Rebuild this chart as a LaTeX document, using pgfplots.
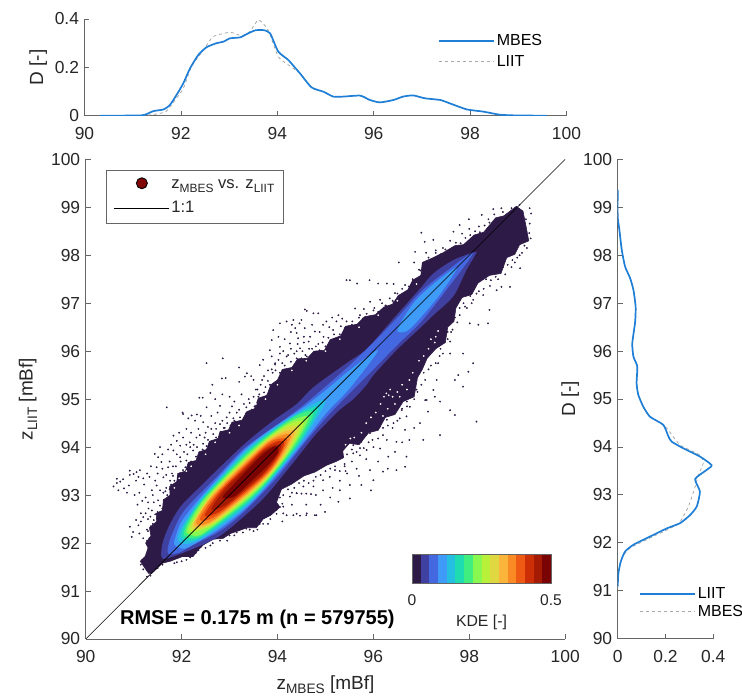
\documentclass[border=0pt]{standalone}
\usepackage{pgfplots}
\usepackage{fontspec}
\setmainfont{Liberation Sans}
\pgfplotsset{compat=1.18}
\definecolor{axc}{HTML}{666666}
\definecolor{txc}{HTML}{262626}
\definecolor{bluel}{HTML}{1F7FD6}
\definecolor{dashc}{HTML}{A8A8A8}
\definecolor{c1}{HTML}{2E1A47}
\definecolor{c2}{HTML}{4040A0}
\definecolor{c3}{HTML}{4468E0}
\definecolor{c4}{HTML}{3E9CF8}
\definecolor{c5}{HTML}{25C0E0}
\definecolor{c6}{HTML}{1FDCB0}
\definecolor{c7}{HTML}{40EE80}
\definecolor{c8}{HTML}{88F850}
\definecolor{c9}{HTML}{B8F03A}
\definecolor{c10}{HTML}{E0D840}
\definecolor{c11}{HTML}{FBB53A}
\definecolor{c12}{HTML}{FA8A24}
\definecolor{c13}{HTML}{EE5A14}
\definecolor{c14}{HTML}{CC2E06}
\definecolor{c15}{HTML}{A51A02}
\definecolor{c16}{HTML}{7A0403}
\pgfplotsset{
  base/.style={scale only axis, axis lines=left, axis line style={-,axc,line width=0.9pt},
    tick align=inside, major tick length=5pt, tick style={axc,line width=0.8pt},
    tick label style={font=\fontsize{17.4}{18}\selectfont,text=txc},
    xticklabel style={yshift=-8pt}, yticklabel style={xshift=-2pt},
    label style={font=\fontsize{19}{20}\selectfont,text=txc},
    /pgf/number format/assume math mode=true,
    /pgf/number format/.cd, fixed, 1000 sep={}, /pgfplots/.cd,
    legend cell align=left}
}
\newcommand{\sub}[1]{\raisebox{-0.45ex}{\fontsize{0.72em}{1em}\selectfont #1}}
\begin{document}
\begin{tikzpicture}
\path[use as bounding box] (0,0) rectangle (742pt,698pt);
% ---------- main
\begin{axis}[base, at={(85.7pt,59pt)}, anchor=south west, width=479.5pt, height=479.7pt,
  xmin=90,xmax=100,ymin=90,ymax=100, xtick={90,92,...,100}, ytick={90,91,...,100},
  xlabel={z\sub{MBES} [mBf]}, ylabel={z\sub{LIIT} [mBf]},
  xlabel style={at={(axis description cs:0.5,0)},anchor=north,yshift=-33pt},
  ylabel style={at={(axis description cs:0,0.5)},anchor=south,yshift=45pt},
  legend style={at={(0.0423,0.978)},anchor=north west,draw=axc,line width=0.9pt,fill=white,
     inner xsep=7pt,inner ysep=7pt,font=\fontsize{16.6}{18}\selectfont,text=txc,row sep=7pt,
     /tikz/every even column/.append style={column sep=6pt}}
]
\addlegendimage{legend image code/.code={\fill[black!0] (0pt,0) rectangle (55pt,1pt);\fill[fill={rgb,255:red,130;green,8;blue,8}] (28pt,2pt) circle (5.5pt);}}
\addlegendentry{z\sub{MBES} vs. z\sub{LIIT}}
\addlegendimage{legend image code/.code={\draw[black,line width=0.6pt] (0pt,0) -- (55pt,0);}}
\addlegendentry{1:1}
% dust
\addplot[forget plot,only marks,mark=*,mark size=0.7pt,c1] table {
90.58 93.18
90.65 93.25
90.68 93.10
90.72 93.28
90.78 93.33
90.80 93.14
90.86 93.05
90.90 93.20
90.92 93.42
91.00 93.44
91.05 93.30
91.10 93.38
91.13 93.52
91.20 93.35
91.22 93.22
91.28 93.45
91.33 93.38
91.36 93.60
91.12 93.05
91.02 93.00
90.92 92.34
90.99 92.23
90.96 92.13
91.10 92.37
91.20 92.54
91.31 92.72
91.38 92.68
91.51 92.89
91.44 93.86
91.51 93.79
91.58 93.69
91.48 93.58
91.62 93.37
91.76 93.30
91.72 93.58
91.83 93.93
91.90 94.13
91.97 94.03
92.03 94.20
92.17 94.10
92.31 94.20
92.28 94.55
92.03 94.69
92.45 94.52
91.69 94.83
92.52 94.83
92.62 94.65
92.80 94.86
92.94 94.62
93.35 94.83
92.10 94.38
91.83 94.24
91.55 94.00
91.97 93.79
92.10 93.72
92.24 93.93
92.45 94.07
92.66 94.27
92.80 94.48
91.06 93.48
90.92 93.51
90.65 93.34
91.15 92.62
91.08 92.80
91.18 92.88
91.25 92.95
91.30 92.50
91.12 92.20
91.20 92.10
91.05 92.48
91.28 92.28
91.33 92.10
91.40 92.40
91.45 92.60
91.42 92.85
91.55 93.10
91.48 93.20
91.38 93.10
91.62 93.05
91.68 93.15
91.80 93.45
91.88 93.60
91.60 93.85
91.72 93.95
91.78 94.05
91.95 94.30
92.10 94.05
92.20 94.30
92.35 94.38
92.50 94.30
92.55 94.15
92.40 94.65
92.70 94.50
92.75 94.72
92.90 94.40
93.00 94.72
93.10 94.55
93.20 94.78
93.45 94.65
92.52 95.75
92.86 95.85
93.20 95.66
92.84 95.43
92.92 95.44
92.64 95.30
93.20 95.36
93.36 95.54
93.32 95.47
93.45 95.48
92.60 95.13
92.37 95.03
92.44 95.03
92.02 94.72
92.21 94.66
92.32 94.68
92.14 94.60
92.70 95.00
92.85 95.10
93.00 95.05
93.10 94.95
93.25 95.10
93.40 95.00
93.55 95.20
93.50 95.40
93.68 95.40
93.60 95.05
93.75 95.25
93.90 95.55
93.80 95.60
94.57 96.87
94.61 96.84
94.50 96.65
94.33 96.65
94.37 96.48
94.57 96.48
94.43 96.27
94.05 96.58
94.19 96.62
93.91 96.44
93.88 96.23
94.02 96.30
93.84 96.02
94.05 96.09
94.26 96.16
93.88 95.89
93.70 95.82
93.63 95.71
94.19 95.89
94.47 96.06
94.61 95.89
94.78 96.41
95.02 96.62
94.85 96.79
95.27 96.75
95.23 96.62
94.75 96.79
94.96 96.30
95.16 96.44
95.44 96.62
95.62 96.89
95.93 97.03
96.14 97.07
96.45 97.21
94.46 96.58
94.40 96.38
94.28 96.40
94.15 96.25
94.30 96.55
94.55 96.18
94.65 96.20
94.72 96.05
94.85 96.15
94.05 95.95
93.95 95.75
94.35 95.95
94.50 95.85
95.10 96.20
95.30 96.35
95.55 96.55
95.70 96.70
95.80 96.88
96.00 96.85
96.25 96.95
96.40 97.05
96.60 97.30
95.44 97.48
95.51 97.48
95.66 97.41
95.92 97.48
96.10 97.41
96.28 97.41
96.42 97.40
96.53 97.85
96.87 98.07
97.00 98.47
97.07 98.28
97.25 98.32
97.67 98.49
97.80 98.63
97.99 98.75
98.26 98.84
98.50 98.96
98.67 98.98
98.88 98.98
99.26 98.98
99.29 98.87
99.26 98.66
99.25 98.46
99.06 97.73
98.88 97.75
98.85 97.34
98.67 97.34
98.57 97.27
98.43 97.36
98.42 96.86
98.29 97.17
98.08 97.07
98.39 96.58
98.19 96.55
98.01 96.58
97.91 96.93
97.87 95.95
98.08 95.75
97.98 95.57
97.87 95.26
97.70 95.40
97.60 95.95
97.77 95.50
97.32 95.40
97.28 95.05
97.39 94.95
97.60 94.77
97.70 94.67
98.15 94.53
97.11 94.98
96.85 97.85
96.95 97.70
97.10 98.05
97.30 98.10
97.45 98.15
97.60 98.30
97.85 98.45
98.00 98.55
98.20 98.60
98.40 98.75
98.70 98.90
99.05 99.05
99.18 98.75
99.28 98.35
99.15 98.20
99.05 98.00
98.90 97.90
98.70 97.75
98.55 97.55
98.35 97.50
98.20 97.25
98.05 97.30
97.95 96.90
97.80 96.75
97.70 96.70
97.62 96.40
97.55 96.25
97.40 96.05
97.35 95.75
97.20 95.70
97.05 95.55
97.39 94.25
97.04 94.15
96.97 94.50
97.14 94.74
97.25 95.19
97.08 94.98
96.69 93.80
96.66 93.59
96.48 93.52
96.31 93.80
96.20 93.49
96.00 93.31
95.75 93.21
95.51 93.21
95.30 93.10
95.51 92.93
95.27 92.86
94.95 93.10
94.99 92.65
94.78 92.58
94.61 92.62
94.47 92.57
94.33 92.58
94.12 92.62
94.30 93.05
94.40 93.04
94.50 93.03
94.60 93.03
94.70 93.02
94.80 93.00
95.93 93.52
95.86 93.94
96.14 93.97
95.72 93.83
95.58 93.87
96.28 94.15
96.48 94.11
96.66 94.36
96.69 94.64
96.59 94.77
96.76 94.84
96.28 94.57
96.14 94.43
95.93 94.29
95.75 94.11
95.58 94.04
95.37 94.01
95.20 93.52
95.09 93.38
94.95 93.31
94.75 93.18
94.54 93.18
94.40 93.04
94.26 92.97
94.12 92.76
93.98 92.69
96.85 95.00
96.90 95.20
96.70 94.95
96.55 94.60
96.40 94.40
96.20 94.25
96.00 94.00
95.85 93.75
95.65 93.55
95.45 93.45
95.30 93.30
95.15 93.15
96.45 93.90
96.60 94.10
96.75 94.15
96.85 94.40
96.10 93.70
96.30 93.55
95.95 93.10
95.70 93.40
95.40 93.65
95.55 93.70
95.10 92.95
94.90 92.80
94.60 92.80
94.30 92.80
94.75 93.30
94.10 92.45
93.00 92.16
93.35 92.30
93.63 92.40
93.98 92.61
94.19 92.58
94.40 92.61
94.60 92.58
94.81 92.58
94.05 92.75
93.50 92.25
93.80 92.40
93.15 92.22
92.95 92.05
92.10 91.65
91.90 91.60
92.35 91.85
92.60 91.95
91.30 92.25
91.28 92.05
91.36 92.35
91.42 92.48
91.35 92.55
91.50 92.65
91.55 92.78
91.60 92.72
91.63 92.90
91.70 93.00
91.66 93.08
91.75 93.12
91.78 93.22
91.85 93.30
91.82 93.40
91.92 93.38
91.96 93.45
92.00 93.38
92.03 93.52
92.08 93.58
92.12 93.47
92.16 93.62
92.20 93.70
92.26 93.68
92.30 93.80
92.35 93.72
92.40 93.85
92.44 93.95
92.50 93.90
92.52 94.02
92.58 94.05
92.62 94.12
92.68 94.02
92.72 94.20
92.78 94.15
92.82 94.32
92.88 94.40
92.96 94.33
93.02 94.45
93.08 94.60
93.14 94.50
93.22 94.62
93.28 94.55
93.34 94.70
93.40 94.62
93.46 94.78
93.52 94.85
93.58 94.80
93.62 95.10
93.68 95.00
93.72 95.14
93.78 95.08
93.84 95.30
93.90 95.22
93.96 95.60
94.00 95.35
94.05 95.55
94.10 95.48
94.15 95.70
94.22 95.60
94.28 95.78
94.34 95.68
94.40 95.85
94.46 95.76
94.52 96.00
94.58 95.92
94.66 96.05
94.72 95.93
94.80 96.10
94.88 96.02
94.94 96.18
95.00 96.10
95.06 96.28
95.12 96.15
95.18 96.35
95.26 96.28
95.32 96.52
95.40 96.48
95.48 96.45
95.56 96.62
95.64 96.55
95.72 96.75
95.78 96.68
95.86 96.78
95.94 96.72
96.02 96.90
96.10 96.82
96.18 97.00
96.26 96.95
96.34 97.10
96.42 97.02
96.50 97.20
96.58 97.15
96.66 97.38
96.74 97.35
96.82 97.50
96.90 97.45
96.98 97.68
97.05 97.80
97.15 97.95
97.22 97.88
97.30 98.05
97.40 98.02
97.50 98.12
97.60 98.10
97.72 98.26
97.82 98.25
97.92 98.36
98.02 98.42
98.12 98.50
98.22 98.48
98.32 98.62
98.42 98.68
98.52 98.85
99.20 98.15
99.10 98.05
99.00 97.95
98.95 97.85
98.80 97.80
98.75 97.60
98.60 97.50
98.45 97.48
98.30 97.30
98.15 97.20
98.02 97.15
98.05 97.00
97.88 97.00
97.80 96.90
97.75 96.60
97.60 96.72
97.65 96.45
97.55 96.40
97.60 96.20
97.45 95.95
97.38 95.90
97.30 95.75
97.15 95.62
97.08 95.40
97.00 95.30
96.92 95.15
96.85 95.30
96.70 94.85
96.60 94.80
96.50 94.55
96.42 94.50
96.30 94.45
96.20 94.40
96.10 94.18
95.98 94.15
95.90 94.10
95.80 93.98
95.72 93.98
95.65 93.90
95.55 93.95
95.45 93.85
95.40 93.60
95.30 93.50
95.42 93.50
95.32 93.80
95.20 93.60
95.10 93.55
95.00 93.50
94.90 93.42
94.80 93.38
94.65 93.25
94.55 93.30
94.45 93.25
94.35 93.15
94.22 93.12
94.12 93.00
94.05 92.95
93.95 92.95
94.10 92.82
93.85 92.50
93.70 92.40
93.58 92.28
93.42 92.28
93.28 92.22
93.10 92.16
92.80 92.05
92.65 92.00
92.50 91.90
92.40 91.92
92.30 91.80
92.18 91.70
92.00 91.62
91.85 91.58
91.15 91.55
91.18 91.65
91.20 91.45
91.28 91.30
91.35 91.32
91.42 91.42
91.50 91.48
91.60 91.55
91.15 92.45
91.25 92.62
91.30 92.85
91.40 93.00
91.45 93.30
91.50 93.45
91.60 93.55
91.68 93.42
91.75 93.70
91.82 93.60
91.90 93.85
91.98 93.70
92.05 93.90
92.12 93.85
92.18 94.00
92.25 94.05
92.32 94.00
92.38 94.25
92.48 94.20
92.55 94.42
92.62 94.38
92.72 94.38
92.85 94.55
92.95 94.50
93.05 94.85
93.15 94.72
93.30 94.90
93.42 94.92
93.50 95.05
93.58 95.20
93.65 95.30
93.72 95.48
93.80 95.38
93.88 95.62
93.95 95.72
94.02 95.82
94.10 95.75
94.12 96.00
94.22 95.92
94.28 96.05
94.40 96.00
94.42 96.15
94.55 96.30
94.68 96.30
94.72 96.55
94.88 96.40
94.95 96.55
95.08 96.50
95.14 96.70
95.35 96.68
};
% outer dense polygon
\addplot[forget plot,fill=c1,draw=c1,line width=0.6pt] coordinates {
(91.31,91.37)(91.22,91.50)(91.14,91.62)(91.24,91.72)(91.30,91.90)(91.25,92.00)(91.36,92.15)(91.33,92.32)(91.48,92.45)(91.47,92.62)(91.60,92.68)(91.62,92.90)(91.76,93.00)(91.75,93.18)(91.90,93.28)(91.92,93.45)(92.08,93.50)(92.14,93.68)(92.30,93.72)(92.36,93.90)(92.52,93.95)(92.58,94.12)(92.76,94.18)(92.80,94.32)(92.98,94.36)(93.05,94.52)(93.26,94.56)(93.36,94.74)(93.52,94.80)(93.60,95.02)(93.78,95.08)(93.86,95.30)(94.00,95.40)(94.10,95.62)(94.30,95.66)(94.42,95.84)(94.62,95.85)(94.76,96.00)(94.98,96.02)(95.10,96.24)(95.32,96.32)(95.42,96.52)(95.66,96.56)(95.82,96.72)(96.04,96.76)(96.22,96.92)(96.40,96.98)(96.52,97.16)(96.72,97.28)(96.82,97.48)(96.99,97.58)(97.02,97.85)(97.25,97.95)(97.45,98.05)(97.70,98.20)(97.88,98.22)(98.10,98.42)(98.30,98.48)(98.55,98.78)(98.72,98.82)(98.98,99.02)(99.12,98.92)(99.18,98.62)(99.24,98.30)(99.05,98.22)(98.95,98.02)(98.78,97.95)(98.66,97.62)(98.42,97.58)(98.18,97.42)(98.05,97.18)(97.85,97.12)(97.72,96.90)(97.68,96.62)(97.55,96.50)(97.50,96.18)(97.30,96.05)(97.12,95.85)(97.02,95.62)(96.92,95.45)(96.85,95.05)(96.62,94.95)(96.45,94.68)(96.25,94.62)(96.10,94.35)(95.90,94.30)(95.70,94.05)(95.50,94.08)(95.36,93.92)(95.38,93.78)(95.22,93.70)(95.02,93.62)(94.78,93.48)(94.55,93.40)(94.28,93.22)(94.08,93.12)(93.98,92.85)(94.05,92.75)(93.86,92.58)(93.70,92.50)(93.56,92.32)(93.36,92.32)(93.20,92.26)(93.02,92.20)(92.87,92.10)(92.66,92.08)(92.45,91.96)(92.34,91.85)(92.24,91.72)(92.02,91.72)(91.76,91.62)(91.60,91.58)(91.38,91.37)
} -- cycle;
% white gaps inside the sparse edge of the cloud
\addplot[forget plot,only marks,mark=*,mark size=0.65pt,white] table {
96.27 95.12
96.32 95.08
96.22 95.05
96.35 95.20
96.40 95.05
96.50 95.15
96.60 95.30
96.15 94.90
96.05 94.72
95.95 94.62
96.45 94.90
96.55 95.05
96.70 95.20
96.75 95.40
96.30 94.80
96.20 94.65
95.85 94.50
95.75 94.30
96.82 95.55
97.30 96.30
97.28 96.18
97.20 96.25
97.35 96.42
97.15 96.05
97.05 95.90
96.95 95.80
95.60 94.20
95.52 94.18
95.42 94.05
92.20 93.60
92.10 93.50
91.95 93.35
91.85 93.15
92.50 93.85
92.70 94.10
93.00 94.30
93.20 94.45
93.55 94.90
93.75 95.00
94.00 95.30
94.30 95.60
94.60 95.80
95.00 96.00
95.30 96.25
95.70 96.50
96.10 96.75
96.50 97.05
96.90 97.40
};
% nested KDE levels
\addplot[forget plot,fill=c2,draw=none,smooth cycle] coordinates {
(91.58,91.71)(91.60,91.99)(91.74,92.36)(91.97,92.75)(92.31,93.10)(92.80,93.58)(93.35,94.10)(93.91,94.55)(94.40,94.90)(94.75,95.25)(95.44,95.75)(95.86,96.05)(96.42,96.68)(96.97,97.30)(97.25,97.62)(97.67,97.90)(98.12,98.07)(98.12,98.00)(97.94,97.69)(97.67,97.15)(97.25,96.75)(96.97,96.48)(96.48,96.02)(96.00,95.50)(95.86,95.30)(95.58,95.00)(95.30,94.78)(95.00,94.48)(94.74,94.20)(94.33,93.68)(93.77,93.00)(93.35,92.60)(92.80,92.15)(92.24,91.88)(91.70,91.68)};
\addplot[forget plot,fill=c3,draw=none,smooth cycle] coordinates {
(91.72,91.78)(91.75,92.05)(91.97,92.55)(92.20,92.84)(92.80,93.45)(93.30,93.97)(94.00,94.47)(94.50,94.84)(95.00,95.26)(95.50,95.70)(96.00,96.18)(96.50,96.70)(97.00,97.25)(97.50,97.65)(98.08,98.05)(97.50,97.25)(97.00,96.62)(96.50,96.13)(96.00,95.62)(95.50,95.12)(95.00,94.60)(94.50,94.01)(94.00,93.38)(93.30,92.65)(92.80,92.25)(92.20,91.94)(91.95,91.80)};
\addplot[forget plot,fill=c4,draw=none,smooth cycle] coordinates {
(96.50,96.45)(96.85,97.02)(97.30,97.44)(97.74,97.74)(97.40,97.20)(97.00,96.72)(96.70,96.42)};
\addplot[forget plot,fill=c4,draw=none,smooth cycle] coordinates {
(91.85,91.97)(91.88,92.15)(92.00,92.45)(92.30,92.84)(92.80,93.40)(93.30,93.93)(93.80,94.33)(94.50,94.80)(95.00,95.18)(95.50,95.60)(96.10,96.02)(95.50,95.22)(95.00,94.69)(94.50,94.05)(93.80,93.21)(93.30,92.69)(92.80,92.30)(92.30,92.00)(92.05,91.88)};
\addplot[forget plot,fill=c5,draw=none,smooth cycle] coordinates {
(91.93,92.05)(91.98,92.28)(92.40,92.92)(92.80,93.35)(93.30,93.89)(93.80,94.30)(94.50,94.76)(95.00,94.96)(94.50,94.11)(93.80,93.24)(93.30,92.73)(92.80,92.35)(92.40,92.08)(92.10,91.98)};
\addplot[forget plot,fill=c6,draw=none,smooth cycle] coordinates {
(92.00,92.12)(92.08,92.40)(92.50,93.00)(93.30,93.85)(93.80,94.27)(94.45,94.70)(94.85,94.81)(94.45,94.08)(93.80,93.27)(93.30,92.77)(92.50,92.18)(92.20,92.05)};
\addplot[forget plot,fill=c7,draw=none,smooth cycle] coordinates {
(92.05,92.17)(92.14,92.45)(92.50,92.97)(93.30,93.81)(93.80,94.24)(94.40,94.66)(94.75,94.71)(94.40,94.06)(93.80,93.30)(93.30,92.81)(92.50,92.21)(92.25,92.10)};
\addplot[forget plot,fill=c8,draw=none,smooth cycle] coordinates {
(92.10,92.22)(92.18,92.45)(92.50,92.94)(93.30,93.77)(93.80,94.21)(94.30,94.55)(94.65,94.62)(94.30,93.97)(93.80,93.33)(93.30,92.85)(92.50,92.24)(92.30,92.15)};
\addplot[forget plot,fill=c9,draw=none,smooth cycle] coordinates {
(92.15,92.27)(92.60,93.01)(93.30,93.73)(93.80,94.18)(94.25,94.48)(94.55,94.52)(94.25,93.94)(93.80,93.36)(93.30,92.89)(92.60,92.35)};
\addplot[forget plot,fill=c10,draw=none,smooth cycle] coordinates {
(92.20,92.32)(92.60,92.98)(93.30,93.70)(93.80,94.16)(94.20,94.40)(94.45,94.41)(94.20,93.90)(93.80,93.38)(93.30,92.92)(92.60,92.38)};
\addplot[forget plot,fill=c11,draw=none,smooth cycle] coordinates {
(92.25,92.37)(92.60,92.95)(93.30,93.67)(93.80,94.13)(94.15,94.32)(94.36,94.32)(94.15,93.88)(93.80,93.41)(93.30,92.95)(92.60,92.41)};
\addplot[forget plot,fill=c12,draw=none,smooth cycle] coordinates {
(92.30,92.42)(92.60,92.92)(93.30,93.64)(93.80,94.10)(94.10,94.25)(94.28,94.24)(94.10,93.85)(93.80,93.44)(93.30,92.98)(92.60,92.44)};
\addplot[forget plot,fill=c13,draw=none,smooth cycle] coordinates {
(92.38,92.49)(92.70,92.99)(93.30,93.60)(93.80,94.07)(94.05,94.18)(94.20,94.15)(94.05,93.82)(93.80,93.47)(93.30,93.02)(92.70,92.55)};
\addplot[forget plot,fill=c14,draw=none,smooth cycle] coordinates {
(92.48,92.57)(92.80,93.06)(93.30,93.56)(93.70,93.95)(94.00,94.12)(94.14,94.09)(94.00,93.78)(93.70,93.41)(93.30,93.06)(92.80,92.66)};
\addplot[forget plot,fill=c15,draw=none,smooth cycle] coordinates {
(92.62,92.70)(92.90,93.12)(93.30,93.52)(93.70,93.91)(93.95,94.04)(94.08,94.03)(93.95,93.76)(93.70,93.45)(93.30,93.10)(92.90,92.78)};
\addplot[forget plot,fill=c16,draw=none,smooth cycle] coordinates {
(92.85,92.95)(93.10,93.24)(93.40,93.56)(93.70,93.86)(93.95,94.02)(94.02,93.90)(93.80,93.62)(93.40,93.24)(93.10,92.97)};
\addplot[forget plot,black,line width=0.6pt] coordinates {(90,90)(100,100)};
\node[anchor=center,font=\bfseries\fontsize{20}{22}\selectfont,text=black] at (axis cs:93.58,90.42) {RMSE = 0.175 m (n = 579755)};
\end{axis}
% ---------- colourbar
\begin{axis}[at={(412pt,115pt)},anchor=south west,scale only axis,width=139pt,height=29pt,
  xmin=0,xmax=16,ymin=0,ymax=1,xtick={0,16},xticklabels={0,0.5},ytick=\empty,
  major tick length=0pt,axis line style={axc,line width=0.8pt},
  tick label style={font=\fontsize{15.6}{17}\selectfont,text=txc},xtick pos=bottom,
  xticklabel style={yshift=-8pt},
  xlabel={KDE [-]},label style={font=\fontsize{15.8}{17}\selectfont,text=txc},
  xlabel style={yshift=-3pt},
  /pgf/number format/assume math mode=true,axis on top]
\addplot[forget plot,fill=c1,draw=none] coordinates {(0,0)(1,0)(1,1)(0,1)} -- cycle;
\addplot[forget plot,fill=c2,draw=none] coordinates {(1,0)(2,0)(2,1)(1,1)} -- cycle;
\addplot[forget plot,fill=c3,draw=none] coordinates {(2,0)(3,0)(3,1)(2,1)} -- cycle;
\addplot[forget plot,fill=c4,draw=none] coordinates {(3,0)(4,0)(4,1)(3,1)} -- cycle;
\addplot[forget plot,fill=c5,draw=none] coordinates {(4,0)(5,0)(5,1)(4,1)} -- cycle;
\addplot[forget plot,fill=c6,draw=none] coordinates {(5,0)(6,0)(6,1)(5,1)} -- cycle;
\addplot[forget plot,fill=c7,draw=none] coordinates {(6,0)(7,0)(7,1)(6,1)} -- cycle;
\addplot[forget plot,fill=c8,draw=none] coordinates {(7,0)(8,0)(8,1)(7,1)} -- cycle;
\addplot[forget plot,fill=c9,draw=none] coordinates {(8,0)(9,0)(9,1)(8,1)} -- cycle;
\addplot[forget plot,fill=c10,draw=none] coordinates {(9,0)(10,0)(10,1)(9,1)} -- cycle;
\addplot[forget plot,fill=c11,draw=none] coordinates {(10,0)(11,0)(11,1)(10,1)} -- cycle;
\addplot[forget plot,fill=c12,draw=none] coordinates {(11,0)(12,0)(12,1)(11,1)} -- cycle;
\addplot[forget plot,fill=c13,draw=none] coordinates {(12,0)(13,0)(13,1)(12,1)} -- cycle;
\addplot[forget plot,fill=c14,draw=none] coordinates {(13,0)(14,0)(14,1)(13,1)} -- cycle;
\addplot[forget plot,fill=c15,draw=none] coordinates {(14,0)(15,0)(15,1)(14,1)} -- cycle;
\addplot[forget plot,fill=c16,draw=none] coordinates {(15,0)(16,0)(16,1)(15,1)} -- cycle;
\end{axis}
% ---------- top
\begin{axis}[base, at={(84.5pt,582.3pt)}, anchor=south west, width=482pt, height=96.7pt,
  xmin=90,xmax=100,ymin=0,ymax=0.4,xtick={90,92,...,100},ytick={0,0.2,0.4},
  yticklabels={0,0.2,0.4},
  ylabel={D [-]},
  ylabel style={at={(axis description cs:0,0.5)},anchor=south,yshift=34pt},
  reverse legend,
  legend style={at={(0.727,0.88)},anchor=north west,draw=none,fill=none,row sep=4pt,
    font=\fontsize{16}{18}\selectfont,text=black,
    /tikz/every even column/.append style={column sep=6pt}}
  ]
\addplot[dashc,dashed,line width=0.8pt,smooth,tension=0.35,
  legend image code/.code={\draw[dashc,dashed,line width=0.8pt] (0pt,0) -- (55pt,0);}] coordinates {
(90.32,0)(91.15,0)(91.50,.007)(91.70,.019)(91.88,.065)(92.05,.113)(92.22,.203)(92.47,.272)(92.67,.327)(93.02,.345)(93.26,.331)(93.43,.348)(93.61,.396)(93.81,.354)(94.02,.244)(94.23,.210)(94.47,.175)(94.71,.117)(94.96,.099)(95.16,.079)(95.37,.079)(95.72,.083)(95.92,.065)(96.13,.055)(96.41,.065)(96.61,.079)(96.82,.084)(97.06,.072)(97.38,.065)(97.58,.051)(97.93,.026)(98.27,.017)(98.62,.004)(98.97,.001)(99.59,0)};
\addlegendentry{LIIT}
\addplot[bluel,line width=1.7pt,smooth,tension=0.35,
  legend image code/.code={\draw[bluel,line width=1.7pt] (0pt,0) -- (55pt,0);}] coordinates {
(90.32,0)(91.15,.001)(91.29,.007)(91.43,.019)(91.64,.026)(91.77,.044)(91.91,.086)(92.05,.134)(92.19,.196)(92.36,.251)(92.53,.283)(92.74,.300)(92.88,.306)(93.02,.320)(93.23,.324)(93.37,.338)(93.54,.353)(93.71,.354)(93.85,.341)(94.02,.265)(94.23,.230)(94.47,.175)(94.71,.117)(94.96,.099)(95.16,.079)(95.37,.079)(95.72,.083)(95.92,.065)(96.13,.055)(96.41,.065)(96.61,.079)(96.82,.084)(97.06,.072)(97.38,.065)(97.58,.051)(97.93,.026)(98.27,.017)(98.62,.004)(98.97,.001)(99.59,0)};
\addlegendentry{MBES}
\end{axis}
% ---------- right
\begin{axis}[base, at={(617.7pt,59.3pt)}, anchor=south west, width=95.6pt, height=479.4pt,
  xmin=0,xmax=0.4,ymin=90,ymax=100,xtick={0,0.2,0.4},xticklabels={0,0.2,0.4},ytick={90,91,...,100},
  ylabel={D [-]},
  ylabel style={at={(axis description cs:0,0.5)},anchor=south,yshift=35pt},
  reverse legend,
  legend style={at={(0.19,0.115)},anchor=north west,draw=none,fill=none,row sep=1pt,
    font=\fontsize{16}{18}\selectfont,text=black,
    /tikz/every even column/.append style={column sep=3pt}}
  ]
\addplot[dashc,dashed,line width=0.8pt,smooth,tension=0.35,
  legend image code/.code={\draw[dashc,dashed,line width=0.8pt] (0pt,0) -- (55pt,0);}] coordinates {
(0,99.36)(0,98.80)(.007,98.53)(.017,98.11)(.031,97.76)(.052,97.52)(.066,97.27)(.075,96.93)(.073,96.61)(.061,96.16)(.066,95.88)(.082,95.68)(.079,95.33)(.086,95.09)(.107,94.84)(.135,94.63)(.191,94.46)(.212,94.35)(.261,94.04)(.344,93.83)(.358,93.66)(.338,93.42)(.324,93.17)(.296,92.76)(.261,92.44)(.219,92.30)(.135,92.10)(.052,91.89)(.017,91.68)(.003,91.37)(0,90.95)};
\addlegendentry{MBES}
\addplot[bluel,line width=1.7pt,smooth,tension=0.35,
  legend image code/.code={\draw[bluel,line width=1.7pt] (0pt,0) -- (55pt,0);}] coordinates {
(0,99.36)(0,98.80)(.007,98.53)(.017,98.11)(.031,97.76)(.052,97.52)(.066,97.27)(.075,96.93)(.073,96.61)(.061,96.16)(.066,95.88)(.082,95.68)(.079,95.33)(.086,95.09)(.107,94.84)(.135,94.63)(.191,94.46)(.212,94.22)(.226,94.11)(.275,93.97)(.344,93.80)(.393,93.62)(.372,93.52)(.324,93.33)(.344,93.07)(.331,92.76)(.303,92.58)(.261,92.41)(.205,92.30)(.135,92.13)(.066,91.96)(.031,91.82)(.013,91.61)(.003,91.37)(0,91.09)};
\addlegendentry{LIIT}
\end{axis}
\end{tikzpicture}
\end{document}
